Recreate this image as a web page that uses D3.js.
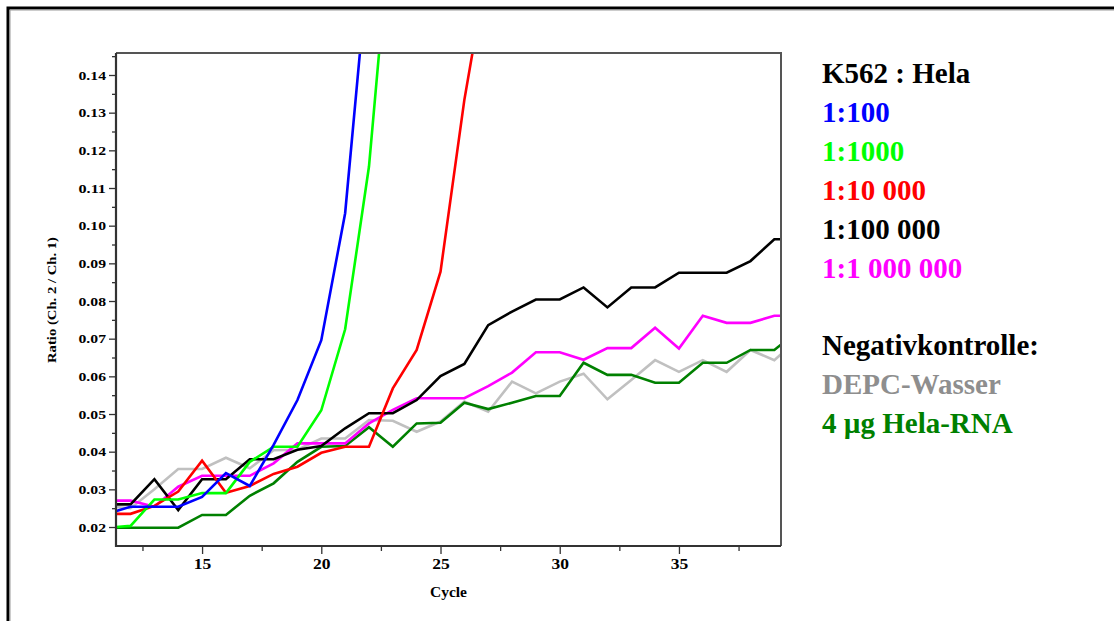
<!DOCTYPE html>
<html>
<head>
<meta charset="utf-8">
<script src="https://cdn.jsdelivr.net/npm/d3@7"></script>
<style>
  html, body { margin: 0; padding: 0; background: #fff; }
  svg { display: block; }
  text { font-family: "Liberation Serif", "Times New Roman", serif; font-weight: bold; }
</style>
</head>
<body>
<svg id="chart" width="1114" height="621"></svg>
<script>
// ---- data (cycles and ratio values) ----
const cycles = [11,12,13,14,15,16,17,18,19,20,21,22,23,24,25,26,27,28,29,30,31,32,33,34,35,36,37,38,39,40];

const s1_100     = [0.0235,0.0254,0.0254,0.0254,0.0280,0.0343,0.0309,0.0418,0.0537,0.0696,0.1033,0.1720];
const s1_1000    = [0.0198,0.0203,0.0273,0.0273,0.0290,0.0290,0.0373,0.0413,0.0413,0.0510,0.0725,0.1157,0.1870];
const s1_10000   = [0.0235,0.0235,0.0256,0.0294,0.0376,0.0291,0.0309,0.0341,0.0360,0.0397,0.0413,0.0413,0.0568,0.0670,0.0878,0.1334,0.1700];
const s1_100000  = [0.0260,0.0260,0.0327,0.0245,0.0327,0.0327,0.0380,0.0380,0.0405,0.0415,0.0462,0.0502,0.0502,0.0537,0.0601,0.0633,0.0736,0.0772,0.0804,0.0804,0.0836,0.0783,0.0836,0.0836,0.0875,0.0875,0.0875,0.0906,0.0964,0.0964];
const s1_1000000 = [0.0270,0.0270,0.0254,0.0307,0.0336,0.0336,0.0336,0.0369,0.0422,0.0422,0.0422,0.0475,0.0511,0.0542,0.0542,0.0542,0.0574,0.0610,0.0664,0.0664,0.0644,0.0675,0.0675,0.0729,0.0674,0.0761,0.0742,0.0742,0.0761,0.0761];
const depcWasser = [0.0255,0.0250,0.0300,0.0354,0.0354,0.0384,0.0356,0.0404,0.0405,0.0435,0.0435,0.0484,0.0482,0.0453,0.0480,0.0533,0.0506,0.0586,0.0555,0.0586,0.0607,0.0539,0.0590,0.0643,0.0612,0.0643,0.0612,0.0670,0.0643,0.0700];
const helaRNA    = [0.0198,0.0198,0.0198,0.0198,0.0232,0.0232,0.0283,0.0316,0.0373,0.0413,0.0415,0.0465,0.0413,0.0475,0.0477,0.0530,0.0513,0.0530,0.0548,0.0548,0.0636,0.0604,0.0604,0.0583,0.0583,0.0636,0.0636,0.0670,0.0670,0.0720];

const seriesNames  = ["1:100","1:1000","1:10 000","1:100 000","1:1 000 000","DEPC-Wasser","4 µg Hela-RNA"];
const seriesValues = [s1_100, s1_1000, s1_10000, s1_100000, s1_1000000, depcWasser, helaRNA];
const seriesColors = ["#0000ff","#00ff00","#ff0000","#000000","#ff00ff","#c0c0c0","#008000"];
const legendTextColors = ["#0000ff","#00ff00","#ff0000","#000000","#ff00ff","#8e8e8e","#008000"];
const drawOrder = [5,6,4,3,2,1,0]; // back to front

const yTicks = [0.02,0.03,0.04,0.05,0.06,0.07,0.08,0.09,0.10,0.11,0.12,0.13,0.14];
const yTickLabels = ["0.02","0.03","0.04","0.05","0.06","0.07","0.08","0.09","0.10","0.11","0.12","0.13","0.14"];
const yMinorTicks = [0.025,0.035,0.045,0.055,0.065,0.075,0.085,0.095,0.105,0.115,0.125,0.135,0.145];
const xTicks = [15,20,25,30,35];
const xMinorTicks = [12.5,17.5,22.5,27.5,32.5,37.5];

const legendTitle = "K562 : Hela";
const negTitle = "Negativkontrolle:";
const xTitle = "Cycle";
const yTitle = "Ratio (Ch. 2 / Ch. 1)";

// ---- layout ----
const svg = d3.select("#chart");
const L = 116, R = 781, T = 53, B = 546;

const x = d3.scaleLinear().domain([11.39, 39.28]).range([L, R]);
const y = d3.scaleLinear().domain([0.01496, 0.14584]).range([B, T]);

// outer frame (partially cut off)
svg.append("path")
  .attr("d", `M8,621 V8 H1114`)
  .attr("fill", "none").attr("stroke", "#000").attr("stroke-width", 3);
svg.append("path")
  .attr("d", `M10,621 V10 H1114`)
  .attr("fill", "none").attr("stroke", "#999").attr("stroke-width", 1);

// clip
svg.append("clipPath").attr("id", "clip")
  .append("rect").attr("x", L).attr("y", T).attr("width", R - L).attr("height", B - T);

// series lines
const line = d3.line().x((d, i) => x(cycles[i])).y(d => y(d));
const g = svg.append("g").attr("clip-path", "url(#clip)");
drawOrder.forEach(k => {
  g.append("path")
    .datum(seriesValues[k])
    .attr("d", line)
    .attr("fill", "none")
    .attr("stroke", seriesColors[k])
    .attr("stroke-width", 2.6)
    .attr("stroke-linejoin", "miter");
});

// plot frame (top/right gray)
svg.append("path")
  .attr("d", `M${L},${T} H${R} V${B}`)
  .attr("fill", "none").attr("stroke", "#555").attr("stroke-width", 2);

// y axis
const yAxis = d3.axisLeft(y).tickValues(yTicks).tickFormat((d, i) => yTickLabels[i]).tickSize(7).tickPadding(3);
const yAx = svg.append("g").attr("transform", `translate(${L},0)`).call(yAxis);
const yAxMinor = svg.append("g").attr("transform", `translate(${L},0)`)
  .call(d3.axisLeft(y).tickValues(yMinorTicks).tickFormat("").tickSize(4));
// x axis
const xAxis = d3.axisBottom(x).tickValues(xTicks).tickFormat(d3.format("d")).tickSize(8).tickPadding(5);
const xAx = svg.append("g").attr("transform", `translate(0,${B})`).call(xAxis);
const xAxMinor = svg.append("g").attr("transform", `translate(0,${B})`)
  .call(d3.axisBottom(x).tickValues(xMinorTicks).tickFormat("").tickSize(5));

[yAx, yAxMinor, xAx, xAxMinor].forEach(a => {
  a.select(".domain").remove();
  a.selectAll("line").attr("stroke", "#333").attr("stroke-width", 1.3);
  a.selectAll("text").attr("fill", "#000").style("font-family", "'Liberation Serif', serif").style("font-weight", "bold");
});
// the reference's axis text is horizontally stretched: force its run length
yAx.selectAll("text").style("font-size", "13px")
  .attr("textLength", 27.5).attr("lengthAdjust", "spacingAndGlyphs");
xAx.selectAll("text").style("font-size", "14.5px")
  .attr("textLength", 17.5).attr("lengthAdjust", "spacingAndGlyphs");

// left and bottom axis lines
svg.append("path")
  .attr("d", `M${L},${T} V${B} H${R}`)
  .attr("fill", "none").attr("stroke", "#333").attr("stroke-width", 2.2);

// axis titles
svg.append("text")
  .attr("x", (L + R) / 2).attr("y", 597)
  .attr("text-anchor", "middle").style("font-size", "14px")
  .attr("textLength", 37).attr("lengthAdjust", "spacingAndGlyphs")
  .text(xTitle);
svg.append("text")
  .attr("transform", `translate(56,300) rotate(-90)`)
  .attr("text-anchor", "middle").style("font-size", "13.5px")
  .attr("textLength", 126).attr("lengthAdjust", "spacingAndGlyphs")
  .text(yTitle);

// legend
const lx = 822, ly0 = 83, lstep = 38.9;
const leg = svg.append("g").style("font-size", "29px");
leg.append("text").attr("x", lx).attr("y", ly0).attr("fill", "#000").text(legendTitle);
for (let i = 0; i < 5; i++) {
  leg.append("text").attr("x", lx).attr("y", ly0 + lstep * (i + 1))
    .attr("fill", legendTextColors[i]).text(seriesNames[i]);
}
leg.append("text").attr("x", lx).attr("y", ly0 + lstep * 7).attr("fill", "#000").text(negTitle);
for (let i = 5; i < 7; i++) {
  leg.append("text").attr("x", lx).attr("y", ly0 + lstep * (i + 3))
    .attr("fill", legendTextColors[i]).text(seriesNames[i]);
}
</script>
</body>
</html>
